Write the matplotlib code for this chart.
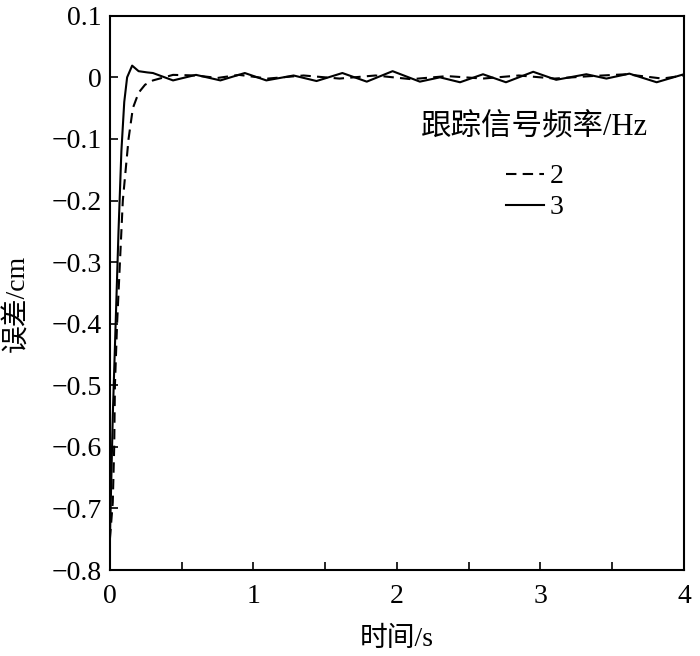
import matplotlib
matplotlib.use('Agg')
import matplotlib.pyplot as plt
from matplotlib.ticker import MultipleLocator

plt.rcParams['font.family'] = ['Liberation Serif', 'Noto Sans CJK SC']
plt.rcParams['axes.unicode_minus'] = True

# 3 Hz tracking error (solid)
t3 = [0, 0.02, 0.04, 0.06, 0.08, 0.1, 0.12, 0.155, 0.2, 0.26, 0.3, 0.44, 0.6, 0.77,
      0.94, 1.09, 1.28, 1.44, 1.62, 1.79, 1.97, 2.16, 2.3, 2.44, 2.6, 2.76, 2.95,
      3.11, 3.32, 3.46, 3.62, 3.81, 4.0]
e3 = [-0.75, -0.55, -0.4, -0.25, -0.12, -0.04, 0.0, 0.019, 0.01, 0.008, 0.007, -0.005,
      0.004, -0.005, 0.007, -0.005, 0.003, -0.006, 0.007, -0.007, 0.01, -0.007, 0.0,
      -0.008, 0.005, -0.008, 0.009, -0.004, 0.005, -0.002, 0.006, -0.008, 0.005]

# 2 Hz tracking error (dashed)
t2 = [0, 0.02, 0.03, 0.035, 0.05, 0.07, 0.09, 0.13, 0.16, 0.2, 0.245, 0.3, 0.44,
      0.6, 0.75, 0.9, 1.1, 1.35, 1.6, 1.85, 2.1, 2.35, 2.6, 2.85, 3.1, 3.35, 3.6,
      3.85, 4.0]
e2 = [-0.75, -0.69, -0.6, -0.5, -0.4, -0.3, -0.2, -0.1, -0.05, -0.025, -0.012,
      -0.005, 0.004, 0.003, -0.001, 0.004, -0.002, 0.003, -0.002, 0.003, -0.003,
      0.002, -0.002, 0.003, -0.002, 0.002, 0.005, -0.002, 0.003]

yticks = [0.1, 0, -0.1, -0.2, -0.3, -0.4, -0.5, -0.6, -0.7, -0.8]
ytick_labels = ['0.1', '0', '\u22120.1', '\u22120.2', '\u22120.3', '\u22120.4',
                '\u22120.5', '\u22120.6', '\u22120.7', '\u22120.8']

fig = plt.figure(figsize=(7, 6.56), dpi=100)
ax = fig.add_axes([0.157, 0.131, 0.82, 0.845])

ax.plot(t2, e2, color='black', lw=1.5, ls=(0, (5, 3)), label='2')
ax.plot(t3, e3, color='black', lw=1.5, label='3')

ax.set_xlim(0, 4)
ax.set_ylim(-0.8, 0.1)
ax.xaxis.set_major_locator(MultipleLocator(1))
ax.xaxis.set_minor_locator(MultipleLocator(0.5))
ax.set_yticks(yticks)
ax.set_yticklabels(ytick_labels)
ax.tick_params(which='both', direction='in', labelsize=20, width=1.2, length=6)
ax.tick_params(axis='x', which='major', pad=10)
ax.tick_params(axis='y', which='major', pad=6)
for s in ax.spines.values():
    s.set_linewidth(1.5)

ax.set_xlabel('时间/s', fontsize=20, labelpad=13)
ax.set_ylabel('误差/cm', fontsize=20)
ax.yaxis.set_label_coords(-0.139, 0.482)

leg = ax.legend(title='跟踪信号频率/Hz', loc='upper center', bbox_to_anchor=(0.74, 0.85),
                frameon=False, fontsize=20, title_fontsize=22, handlelength=1.4,
                handletextpad=0.2, labelspacing=0.2, borderpad=0)
leg._legend_box.sep = 16

fig.savefig('out.png', dpi=100)
